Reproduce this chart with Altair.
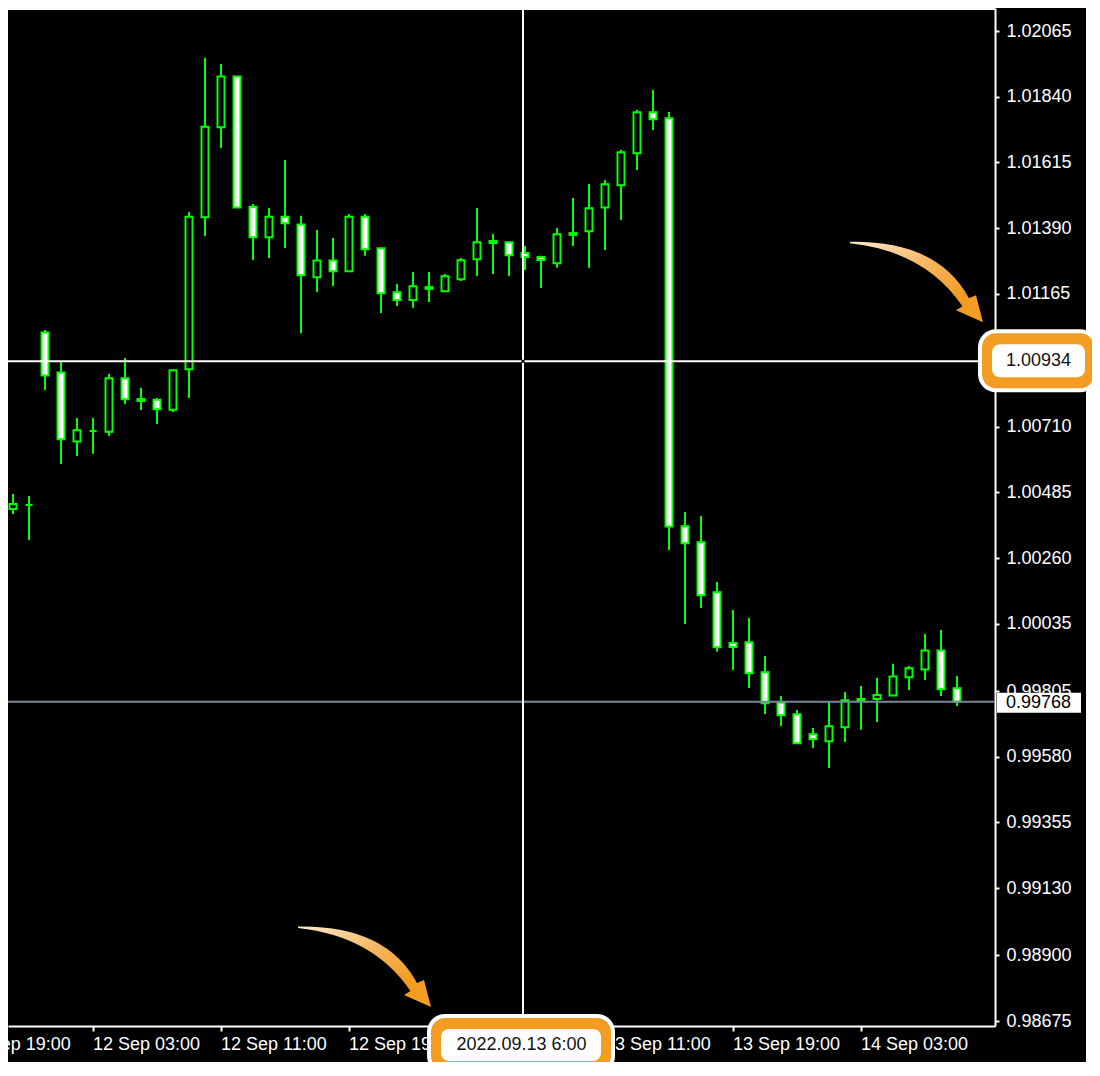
import altair as alt
import pandas as pd

# ---------------- data (H1 candles) ----------------
opens = [1.00428, 1.00442, 1.01033, 1.00896, 1.00659, 1.00695, 1.00693, 1.00876, 1.00798, 1.00802,
         1.00768, 1.00907, 1.01427, 1.01735, 1.01909, 1.01463, 1.01359, 1.01429, 1.01402, 1.01222,
         1.01279, 1.01242, 1.01429, 1.01321, 1.01170, 1.01144, 1.01182, 1.01174, 1.01215, 1.01283,
         1.01339, 1.01342, 1.01305, 1.01291, 1.01270, 1.01367, 1.01379, 1.01461, 1.01537, 1.01646,
         1.01787, 1.01766, 1.00369, 1.00314, 1.00143, 0.99969, 0.99972, 0.99869, 0.99766, 0.99725,
         0.99657, 0.99633, 0.99681, 0.99771, 0.99778, 0.99790, 0.99852, 0.99879, 0.99944, 0.99814]
highs = [1.00480, 1.00473, 1.01041, 1.00933, 1.00740, 1.00740, 1.00891, 1.00945, 1.00843, 1.00808,
         1.00904, 1.01445, 1.01973, 1.01952, 1.01911, 1.01473, 1.01459, 1.01623, 1.01432, 1.01384,
         1.01356, 1.01438, 1.01438, 1.01323, 1.01199, 1.01240, 1.01240, 1.01233, 1.01288, 1.01459,
         1.01370, 1.01343, 1.01329, 1.01295, 1.01390, 1.01493, 1.01541, 1.01555, 1.01658, 1.01795,
         1.01863, 1.01788, 1.00418, 1.00404, 1.00178, 1.00082, 1.00055, 0.99925, 0.99788, 0.99740,
         0.99678, 0.99767, 0.99802, 0.99822, 0.99850, 0.99898, 0.99891, 1.00000, 1.00014, 0.99856]
lows = [1.00411, 1.00322, 1.00836, 1.00582, 1.00610, 1.00617, 1.00678, 1.00788, 1.00767, 1.00719,
        1.00760, 1.00808, 1.01363, 1.01664, 1.01459, 1.01281, 1.01288, 1.01322, 1.01030, 1.01171,
        1.01192, 1.01240, 1.01295, 1.01099, 1.01123, 1.01117, 1.01137, 1.01171, 1.01209, 1.01226,
        1.01233, 1.01226, 1.01247, 1.01185, 1.01254, 1.01329, 1.01254, 1.01315, 1.01418, 1.01589,
        1.01726, 1.00288, 1.00034, 1.00089, 0.99939, 0.99877, 0.99815, 0.99726, 0.99685, 0.99624,
        0.99610, 0.99541, 0.99630, 0.99672, 0.99699, 0.99790, 0.99808, 0.99843, 0.99788, 0.99754]
closes = [1.00445, 1.00442, 1.00885, 1.00667, 1.00698, 1.00695, 1.00876, 1.00804, 1.00805, 1.00770,
          1.00903, 1.01429, 1.01737, 1.01909, 1.01461, 1.01359, 1.01429, 1.01407, 1.01229, 1.01279,
          1.01242, 1.01429, 1.01318, 1.01167, 1.01144, 1.01191, 1.01188, 1.01225, 1.01280, 1.01342,
          1.01346, 1.01297, 1.01291, 1.01281, 1.01369, 1.01373, 1.01458, 1.01540, 1.01650, 1.01787,
          1.01763, 1.00368, 1.00311, 1.00133, 0.99955, 0.99956, 0.99866, 0.99763, 0.99722, 0.99626,
          0.99640, 0.99684, 0.99773, 0.99778, 0.99791, 0.99855, 0.99883, 0.99944, 0.99811, 0.99768]
candle_index = list(range(len(opens)))

time_tick_index = [5, 13, 21, 29, 37, 45, 53]
time_label_index = [-3, 5, 13, 21, 37, 45, 53]
time_labels = ["11 Sep 19:00", "12 Sep 03:00", "12 Sep 11:00", "12 Sep 19:00",
               "13 Sep 11:00", "13 Sep 19:00", "14 Sep 03:00"]
price_tick_labels = ["1.02065", "1.01840", "1.01615", "1.01390", "1.01165",
                     "1.00710", "1.00485", "1.00260", "1.00035", "0.99805", "0.99580",
                     "0.99355", "0.99130", "0.98900", "0.98675"]

crosshair_index = 31.875
crosshair_price = 1.00934
crosshair_time_label = "2022.09.13 6:00"
crosshair_price_label = "1.00934"
bid_price = 0.99768
bid_label = "0.99768"

x_domain = [-0.3125, 61.375]
y_domain = [0.9865788, 1.0214376]

# ---------------- styles ----------------
LIME = "#00ff00"
ORANGE = "#f39c24"
BID_GRAY = "#778899"
FONT = "Liberation Sans"
FS = 18

candles = pd.DataFrame({"k": candle_index, "open": opens, "high": highs,
                        "low": lows, "close": closes})
candles["dir"] = ["bull" if c >= o else "bear" for o, c in zip(opens, closes)]

xs = alt.Scale(domain=x_domain, nice=False, zero=False)
ys = alt.Scale(domain=y_domain, nice=False, zero=False)
one = alt.Data(values=[{"a": 1}])

x_axis = alt.Axis(values=time_tick_index, labels=False, title=None, grid=False, tickSize=5,
                  tickWidth=2, tickColor="white", domainColor="white", domainWidth=2, zindex=0)
y_axis = alt.Axis(orient="right", values=[float(v) for v in price_tick_labels], format=".5f",
                  title=None, grid=False, tickSize=4, tickWidth=2, tickColor="white",
                  domainColor="white", domainWidth=2, labelColor="white", labelFont=FONT,
                  labelFontSize=FS, labelPadding=7, labelAlign="left", labelBaseline="middle",
                  labelOverlap=False, labelBound=False, labelFlush=False, zindex=0)


def xf(field):
    return alt.X(field, scale=xs, axis=x_axis)


def yf(field):
    return alt.Y(field, scale=ys, axis=y_axis)


def xd(v):
    return alt.XDatum(v, scale=xs, axis=x_axis)


def yd(v):
    return alt.YDatum(v, scale=ys, axis=y_axis)


wicks = alt.Chart(candles).mark_rule(color=LIME, strokeWidth=2).encode(
    x=xf("k:Q"), y=yf("low:Q"), y2="high:Q",
)

bodies = alt.Chart(candles).transform_calculate(
    x0="datum.k - 0.21875", x1="datum.k + 0.21875"
).mark_rect(stroke=LIME, strokeWidth=2).encode(
    x=xf("x0:Q"), x2="x1:Q", y=yf("open:Q"), y2="close:Q",
    fill=alt.Fill("dir:N", scale=alt.Scale(domain=["bull", "bear"], range=["black", "white"]),
                  legend=None),
)


def hline(v, color, width, offset=0):
    return alt.Chart(one).mark_rule(color=color, strokeWidth=width, yOffset=offset).encode(y=yd(v))


def vline(v, color, width):
    return alt.Chart(one).mark_rule(color=color, strokeWidth=width).encode(x=xd(v))


def box(ax, ax2, ay, ay2, left, right, top, bottom, color, radius=0):
    return alt.Chart(one).mark_rect(
        fill=color, cornerRadius=radius, xOffset=left, x2Offset=right,
        yOffset=top, y2Offset=bottom
    ).encode(x=xd(ax), x2=alt.X2Datum(ax2), y=yd(ay), y2=alt.Y2Datum(ay2))


def label(ax, ay, text, dx, dy, align, color):
    return alt.Chart(one).mark_text(
        text=text, align=align, baseline="middle", font=FONT, fontSize=FS,
        color=color, dx=dx, dy=dy
    ).encode(x=xd(ax), y=yd(ay))


x_labels = alt.Chart(pd.DataFrame({"k": time_label_index, "label": time_labels})).mark_text(
    align="left", baseline="middle", font=FONT, fontSize=FS, color="white", dy=19
).encode(x=xf("k:Q"), y=yd(y_domain[0]), text="label:N")

# curved annotation arrow (outline in pixels relative to its centre)
arrow_pts = "M -66.5 -40 Q 21.5 -41.5 52.5 16.5 L 59.5 13.5 L 66.5 40.5 L 39.5 28.5 L 46 24.5 Q 8.5 -30.5 -66.5 -38.5 Z"
ARROW_HALF = 66.5
arrow_path = " ".join(
    tok if tok.isalpha() else f"{float(tok) / ARROW_HALF:.4f}" for tok in arrow_pts.split()
)
arrow_fill = alt.LinearGradient(
    gradient="linear", x1=0, y1=0, x2=1, y2=1,
    stops=[alt.GradientStop(color="#fde9cf", offset=0),
           alt.GradientStop(color="#f6b459", offset=0.45),
           alt.GradientStop(color=ORANGE, offset=0.75),
           alt.GradientStop(color=ORANGE, offset=1)],
)


def arrow(ax, ay, xoff, yoff):
    return alt.Chart(one).mark_point(
        shape=arrow_path, size=(2 * ARROW_HALF) ** 2, filled=True, fill=arrow_fill,
        strokeWidth=0, opacity=1, xOffset=xoff, yOffset=yoff
    ).encode(x=xd(ax), y=yd(ay))


xmax, ymin, ymax = x_domain[1], y_domain[0], y_domain[1]

layers = [
    wicks,
    bodies,
    hline(bid_price, BID_GRAY, 2),
    hline(crosshair_price, "white", 2),
    vline(crosshair_index, "white", 2),
    hline(ymax, "white", 2, offset=1),
    alt.Chart(one).mark_square(size=9, color="black", opacity=1).encode(
        x=xd(crosshair_index), y=yd(crosshair_price)),
    x_labels,
    # white page area on the right
    box(xmax, xmax, ymax, ymin, 91, 130, -20, 80, "white"),
    # bid price label
    box(xmax, xmax, bid_price, bid_price, 2, 86, -9, 11, "white"),
    label(xmax, bid_price, bid_label, 11, 1, "left", "#000000"),
    # highlighted crosshair price
    box(xmax, xmax, crosshair_price, crosshair_price, -17, 103, -32, 31, "white", 18),
    box(xmax, xmax, crosshair_price, crosshair_price, -13, 99, -28, 27, ORANGE, 14),
    box(xmax, xmax, crosshair_price, crosshair_price, -3, 90, -17, 16, "white", 8),
    label(xmax, crosshair_price, crosshair_price_label, 11, 0, "left", "#111111"),
    # highlighted crosshair time
    box(crosshair_index, crosshair_index, ymin, ymin, -96, 92, -12, 48, "white", 18),
    box(crosshair_index, crosshair_index, ymin, ymin, -92, 88, -8, 44, ORANGE, 14),
    box(crosshair_index, crosshair_index, ymin, ymin, -82, 78, 3, 35, "white", 8),
    label(crosshair_index, ymin, crosshair_time_label, -1.5, 19, "center", "#111111"),
    # arrows
    arrow(xmax, crosshair_price, -78.5, -79.5),
    arrow(crosshair_index, ymin, -158.5, -59.5),
]

chart = alt.layer(*layers).properties(
    width=987, height=1018,
    autosize=alt.AutoSizeParams(type="none"),
    padding={"left": 0, "top": 0, "right": 97, "bottom": 36},
    background="black",
).configure_view(stroke=None, fill="black")

chart.save("out.html", embed_options={"renderer": "svg", "actions": False})
